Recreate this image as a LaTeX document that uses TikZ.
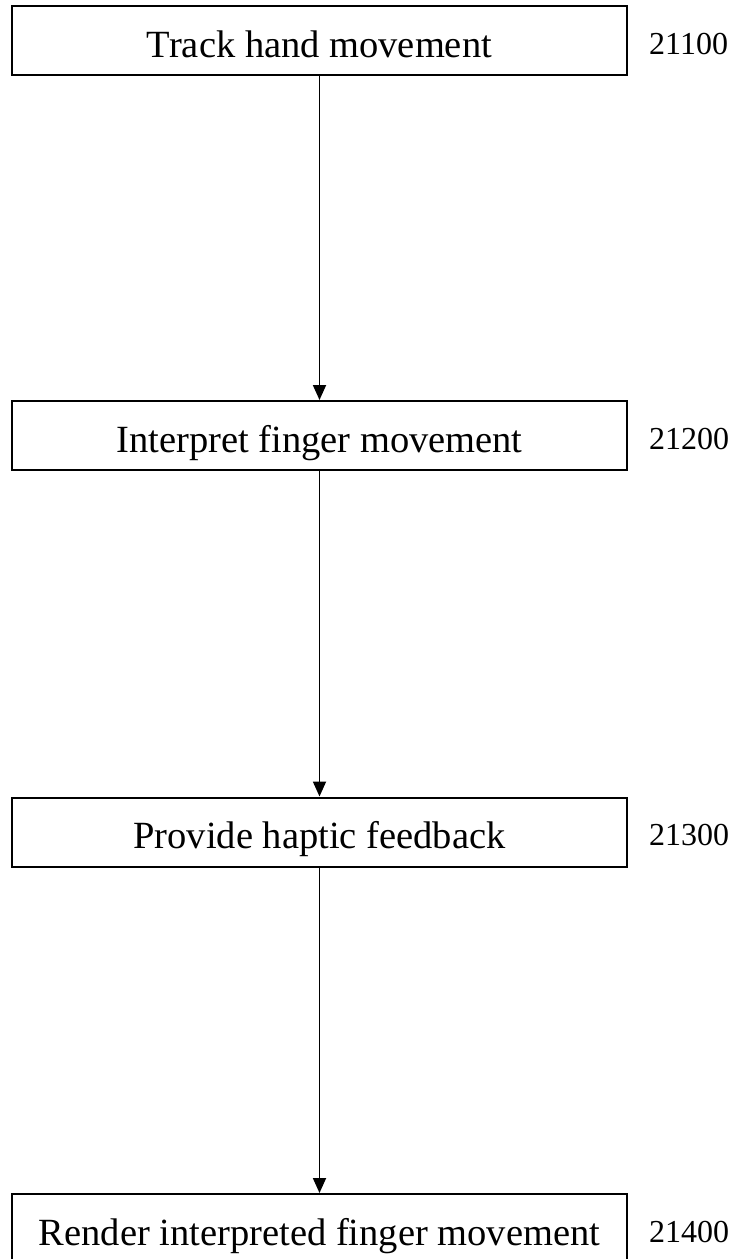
\documentclass[tikz,border=0pt]{standalone}
\usepackage{fontspec}
\setmainfont{Liberation Serif}
\usetikzlibrary{arrows.meta}
\begin{document}
\begin{tikzpicture}[x=1pt,y=-1pt,
  stepbox/.style={draw, line width=2pt, minimum width=615pt, minimum height=69pt,
    inner sep=0pt, font=\fontsize{38.5}{42}\selectfont, text height=33pt, text depth=0pt},
  reflabel/.style={anchor=west, inner sep=0pt, font=\fontsize{32}{36}\selectfont,
    text height=21.6pt, text depth=0pt},
  flow/.style={line width=1.8pt, -{Triangle[length=15pt,width=13pt]}}]
\useasboundingbox (0,0) rectangle (735,1259);
\node[stepbox] (s1) at (319.5,40.5) {Track hand movement};
\node[stepbox] (s2) at (319.5,435.5) {Interpret finger movement};
\node[stepbox] (s3) at (319.5,832) {Provide haptic feedback};
\node[stepbox] (s4) at (319.5,1228.5) {Render interpreted finger movement};
\node[reflabel] (l1) at ([xshift=21pt,yshift=-3pt]s1.east) {21100};
\node[reflabel] (l2) at ([xshift=21pt,yshift=-3pt]s2.east) {21200};
\node[reflabel] (l3) at ([xshift=21pt,yshift=-3pt]s3.east) {21300};
\node[reflabel] (l4) at ([xshift=21pt,yshift=-3pt]s4.east) {21400};
\draw[flow] (s1) -- (s2);
\draw[flow] (s2) -- (s3);
\draw[flow] (s3) -- (s4);
\end{tikzpicture}
\end{document}
